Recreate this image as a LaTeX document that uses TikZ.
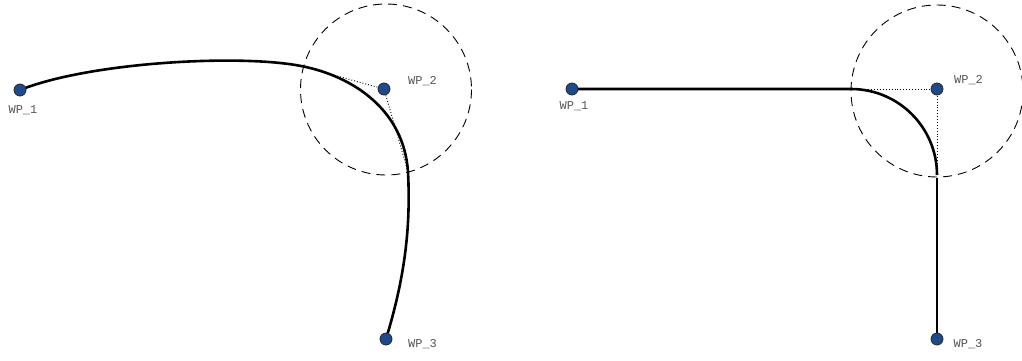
\documentclass[tikz,border=0pt]{standalone}
\usepackage{fontspec}
\setmonofont{Liberation Mono}
\usetikzlibrary{backgrounds}
\definecolor{wpblue}{RGB}{30,74,140}
\definecolor{lblgray}{RGB}{85,85,85}
\tikzset{
  wpdot/.style={circle,draw=black!85,line width=0.8pt,fill=wpblue,minimum size=12pt,inner sep=0pt},
  wplabel/.style={font=\ttfamily\fontsize{12}{12}\selectfont,text=lblgray,inner sep=0pt},
  trackline/.style={line width=2.6pt,black},
  helper/.style={dotted,line width=0.9pt,black},
  zone/.style={dash pattern=on 9pt off 6pt,line width=0.9pt,black}
}
\begin{document}
\begin{tikzpicture}[x=1pt,y=-1pt]
\useasboundingbox (0,0) rectangle (1022,361);
% ---- left diagram ----
\node[wpdot] (wpA1) at (20,90) {};
\node[wpdot] (wpA2) at (384,89) {};
\node[wpdot] (wpA3) at (386,339) {};
\node[wplabel] (lA1) at (23,110) {WP\_1};
\node[wplabel] (lA2) at (422.5,81) {WP\_2};
\node[wplabel] (lA3) at (422.5,344) {WP\_3};
\coordinate (entryL) at (301,66);
\coordinate (exitL) at (408,172);
\coordinate (zoneLc) at (386,89.5);
% ---- right diagram ----
\node[wpdot] (wpB1) at (572,89) {};
\node[wpdot] (wpB2) at (937,89) {};
\node[wpdot] (wpB3) at (937,339) {};
\node[wplabel] (lB1) at (574,106) {WP\_1};
\node[wplabel] (lB2) at (968.5,80) {WP\_2};
\node[wplabel] (lB3) at (968,344) {WP\_3};
\coordinate (entryR) at (851,89);
\coordinate (exitR) at (937,175);
\coordinate (resumeR) at (937,178);
\coordinate (zoneRc) at (937,91);
\begin{scope}[on background layer]
  \draw[zone] (zoneLc) circle[radius=85.5];
  \draw[zone] (zoneRc) circle[radius=86];
  \draw[helper] (entryL) -- (wpA2.center) -- (exitL);
  \draw[helper] (entryR) -- (wpB2.center) -- (exitR);
  \draw[trackline] (wpA1.center) .. controls (90,62) and (240,54) .. (entryL)
     .. controls (353,76) and (404,110) .. (exitL)
     .. controls (411,230) and (404,280) .. (wpA3.center);
  \draw[trackline] (wpB1.center) -- (entryR)
     .. controls (898.5,89) and (937,127.5) .. (exitR);
  \draw[trackline] (resumeR) -- (wpB3.center);
\end{scope}
\end{tikzpicture}
\end{document}
